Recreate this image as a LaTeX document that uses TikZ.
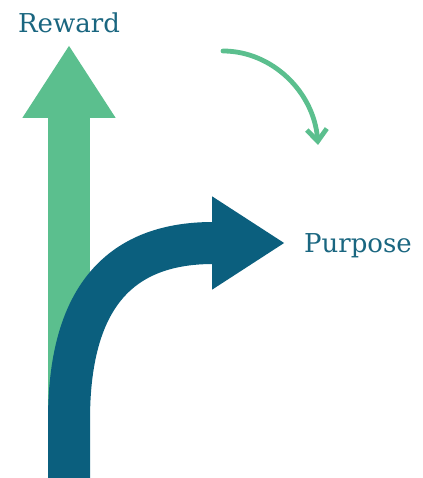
\documentclass[tikz,border=0pt]{standalone}
\usepackage{fontspec}
\setmainfont{DejaVu Serif}
\usepackage{tikz}
\usetikzlibrary{arrows.meta}

\definecolor{rewardgreen}{HTML}{5BBF8E}
\definecolor{purposeblue}{HTML}{0B5F7E}
\definecolor{labelblue}{HTML}{1A6680}

\begin{document}
\begin{tikzpicture}[x=1pt, y=-1pt, >=latex]
        \tikzstyle{label} = [text=labelblue, anchor=base, inner sep=0pt,
            font=\fontsize{26}{30}\selectfont]
        \tikzstyle{bigArrow} = [line width=42pt,
            -{Triangle[length=73pt, width=88pt]}]
        \tikzstyle{turnArrow} = [line width=4.8pt, rewardgreen, line cap=round,
            -{Straight Barb[length=12pt, width=20pt]}]
        \useasboundingbox (0,0) rectangle (422,478);

        \coordinate (rewardStart) at (69,478);
        \coordinate (rewardTip) at (69,45);
        \coordinate (purposeStart) at (69,478);
        \coordinate (purposeBend) at (69,420);
        \coordinate (purposeShaft) at (213,243);
        \coordinate (purposeTip) at (285,243);
        \coordinate (turnStart) at (223,51);
        \coordinate (turnEnd) at (318,145);

        \node[label] (reward) at (69,33) {Reward};
        \node[label] (purpose) at (358,252) {Purpose};

        % straight up
        \draw[bigArrow, rewardgreen] (rewardStart) -- (rewardTip);
        % turning right
        \draw[bigArrow, purposeblue] (purposeStart) -- (purposeBend)
            .. controls (69,302) and (116,243) .. (purposeShaft)
            -- (purposeTip);
        % small curved arrow
        \draw[turnArrow] (turnStart)
            .. controls (272,51) and (314,92) .. (turnEnd);
    \end{tikzpicture}
\end{document}
